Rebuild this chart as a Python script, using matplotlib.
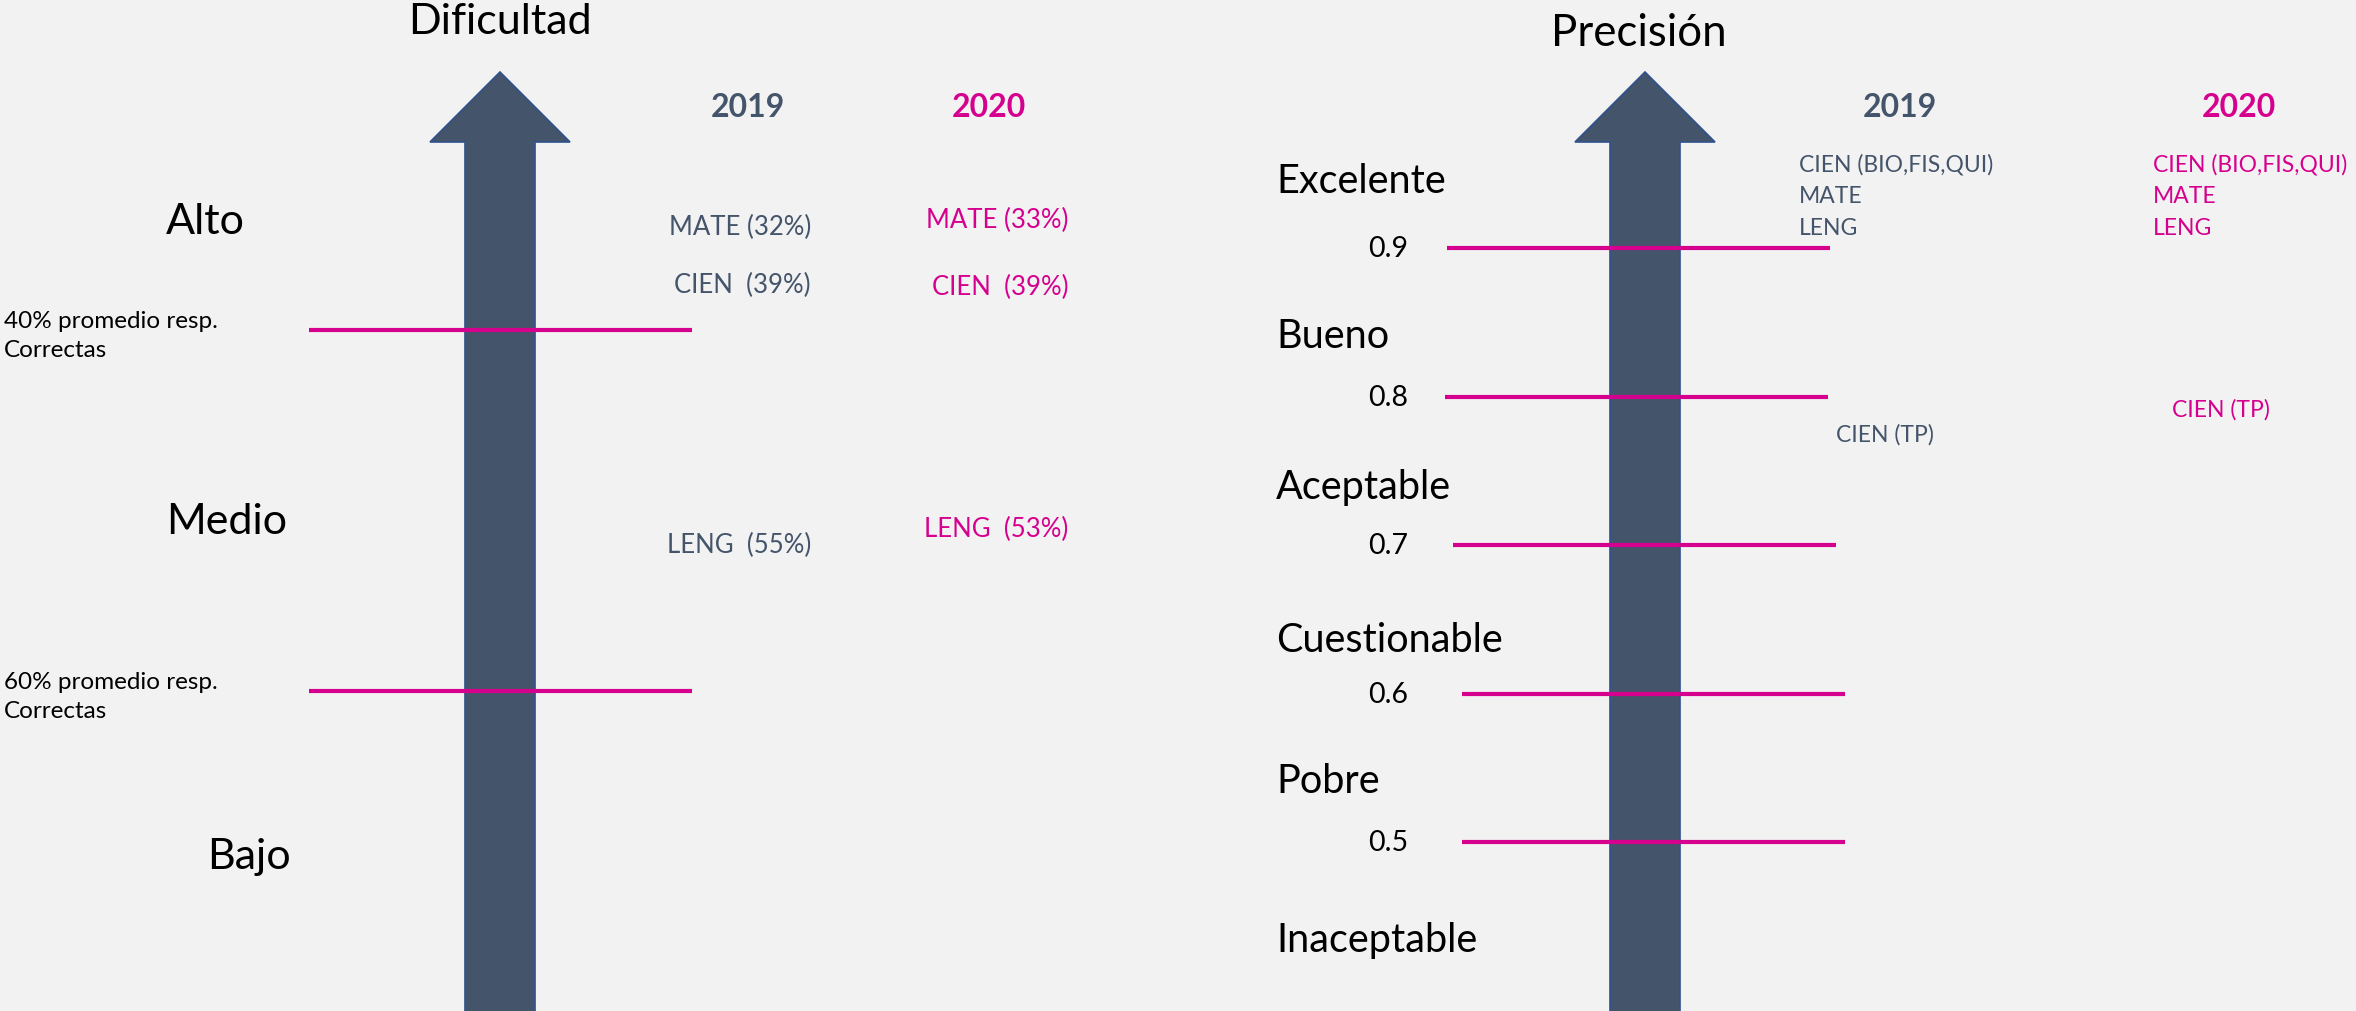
import matplotlib
matplotlib.use("Agg")
import matplotlib.pyplot as plt
from matplotlib.patches import FancyArrow

# ---------------- data ----------------
diff_title = "Dificultad"
diff_levels = ["Alto", "Medio", "Bajo"]
diff_thresholds = [40, 60]          # % promedio respuestas correctas
diff_subjects = ["MATE", "CIEN", "LENG"]
diff_2019 = [32, 39, 55]
diff_2020 = [33, 39, 53]

prec_title = "Precisión"
prec_levels = ["Excelente", "Bueno", "Aceptable", "Cuestionable", "Pobre", "Inaceptable"]
prec_thresholds = [0.9, 0.8, 0.7, 0.6, 0.5]
prec_top_2019 = ["CIEN (BIO,FIS,QUI)", "MATE", "LENG"]
prec_top_2020 = ["CIEN (BIO,FIS,QUI)", "MATE", "LENG"]
prec_tp_label = "CIEN (TP)"
prec_tp_2019 = 0.775
prec_tp_2020 = 0.792

years = ["2019", "2020"]

# ---------------- style / layout ----------------
W, H = 2356, 1012
BG = "#F2F2F2"
SLATE = "#44546A"
PINK = "#D6008F"
ARROW_EDGE = "#2F528F"
FONT = ["Lato", "DejaVu Sans"]
plt.rcParams["font.family"] = FONT

fig = plt.figure(figsize=(W / 100, H / 100), dpi=100, facecolor=BG)

base = fig.add_axes([0, 0, 1, 1])
base.set_facecolor(BG)
base.set_xlim(0, W)
base.set_ylim(H, 0)
base.axis("off")

# left panel data axes: y in percent, anchored so thresholds sit at given pixel rows
L_PIX = (331, 692)
slopeL = (diff_thresholds[1] - diff_thresholds[0]) / (L_PIX[1] - L_PIX[0])
pL = lambda ypx: diff_thresholds[0] + (ypx - L_PIX[0]) * slopeL
axL = fig.add_axes([0, 0, 1, 1])
axL.patch.set_alpha(0)
axL.set_xlim(0, W)
axL.set_ylim(pL(H), pL(0))
axL.axis("off")

# right panel data axes: y in precision value (linear scale)
R_MID_PIX, R_MID_VAL, R_PPU = 546.2, 0.7, 1484.0
vR = lambda ypx: R_MID_VAL - (ypx - R_MID_PIX) / R_PPU
axR = fig.add_axes([0, 0, 1, 1])
axR.patch.set_alpha(0)
axR.set_xlim(0, W)
axR.set_ylim(vR(H), vR(0))
axR.axis("off")

# ---------------- arrows ----------------
for cx in (500, 1645):
    arr = FancyArrow(cx, H + 20, 0, 73 - (H + 20), width=70, head_width=140,
                     head_length=70, length_includes_head=True,
                     fc=SLATE, ec=ARROW_EDGE, lw=1.2, zorder=1)
    base.add_patch(arr)

# ---------------- left panel ----------------
base.text(500, 22, diff_title, ha="center", va="center", fontsize=31, color="black")
lvlL_x = [166, 166, 207]
lvlL_y = [222, 522, 857]
for t, x, y in zip(diff_levels, lvlL_x, lvlL_y):
    base.text(x, y, t, ha="left", va="center", fontsize=31, color="black")

year_xL = [748, 989]
year_xR = [1900, 2239]
for yr, xl, xr, c in zip(years, year_xL, year_xR, [SLATE, PINK]):
    base.text(xl, 107, yr, ha="center", va="center", fontsize=23, fontweight="bold", color=c)
    base.text(xr, 107, yr, ha="center", va="center", fontsize=23, fontweight="bold", color=c)

axL.hlines(diff_thresholds, 309, 692, colors=PINK, lw=3.0, zorder=3)
for t in diff_thresholds:
    axL.annotate(f"{t}% promedio resp.\nCorrectas", xy=(4, t), xycoords="data",
                 xytext=(0, -3.6), textcoords="offset points",
                 ha="left", va="center", fontsize=17.5, color="black", linespacing=1.5)

seps = [" ", "  ", "  "]
y2019L = [227, 285, 545]
y2020L = [220, 287, 529]
for s, sep, v, y in zip(diff_subjects, seps, diff_2019, y2019L):
    base.text(811, y, f"{s}{sep}({v}%)", ha="right", va="center", fontsize=18.5, color=SLATE)
for s, sep, v, y in zip(diff_subjects, seps, diff_2020, y2020L):
    base.text(1068, y, f"{s}{sep}({v}%)", ha="right", va="center", fontsize=18.5, color=PINK)

# ---------------- right panel ----------------
base.text(1639, 33, prec_title, ha="center", va="center", fontsize=31.5, color="black")
lvlR_y = [181, 336, 488, 640, 782, 941]
for t, y in zip(prec_levels, lvlR_y):
    base.text(1276, y, t, ha="left", va="center", fontsize=28.5, color="black")

line_x0 = [1447, 1445, 1453, 1462, 1462]
line_x1 = [1830, 1828, 1836, 1845, 1845]
for v, x0, x1 in zip(prec_thresholds, line_x0, line_x1):
    axR.hlines(v, x0, x1, colors=PINK, lw=3.0, zorder=3)
    axR.text(1388, v, f"{v:.1f}", ha="center", va="center", fontsize=20.5, color="black")

top_y = [165, 196, 228]
for t, y in zip(prec_top_2019, top_y):
    base.text(1799, y, t, ha="left", va="center", fontsize=16.5, color=SLATE)
for t, y in zip(prec_top_2020, top_y):
    base.text(2153, y, t, ha="left", va="center", fontsize=16.5, color=PINK)

axR.text(1836, prec_tp_2019, prec_tp_label, ha="left", va="center", fontsize=16.5, color=SLATE)
axR.text(2172, prec_tp_2020, prec_tp_label, ha="left", va="center", fontsize=16.5, color=PINK)

fig.savefig("out.png", dpi=100, facecolor=BG)
